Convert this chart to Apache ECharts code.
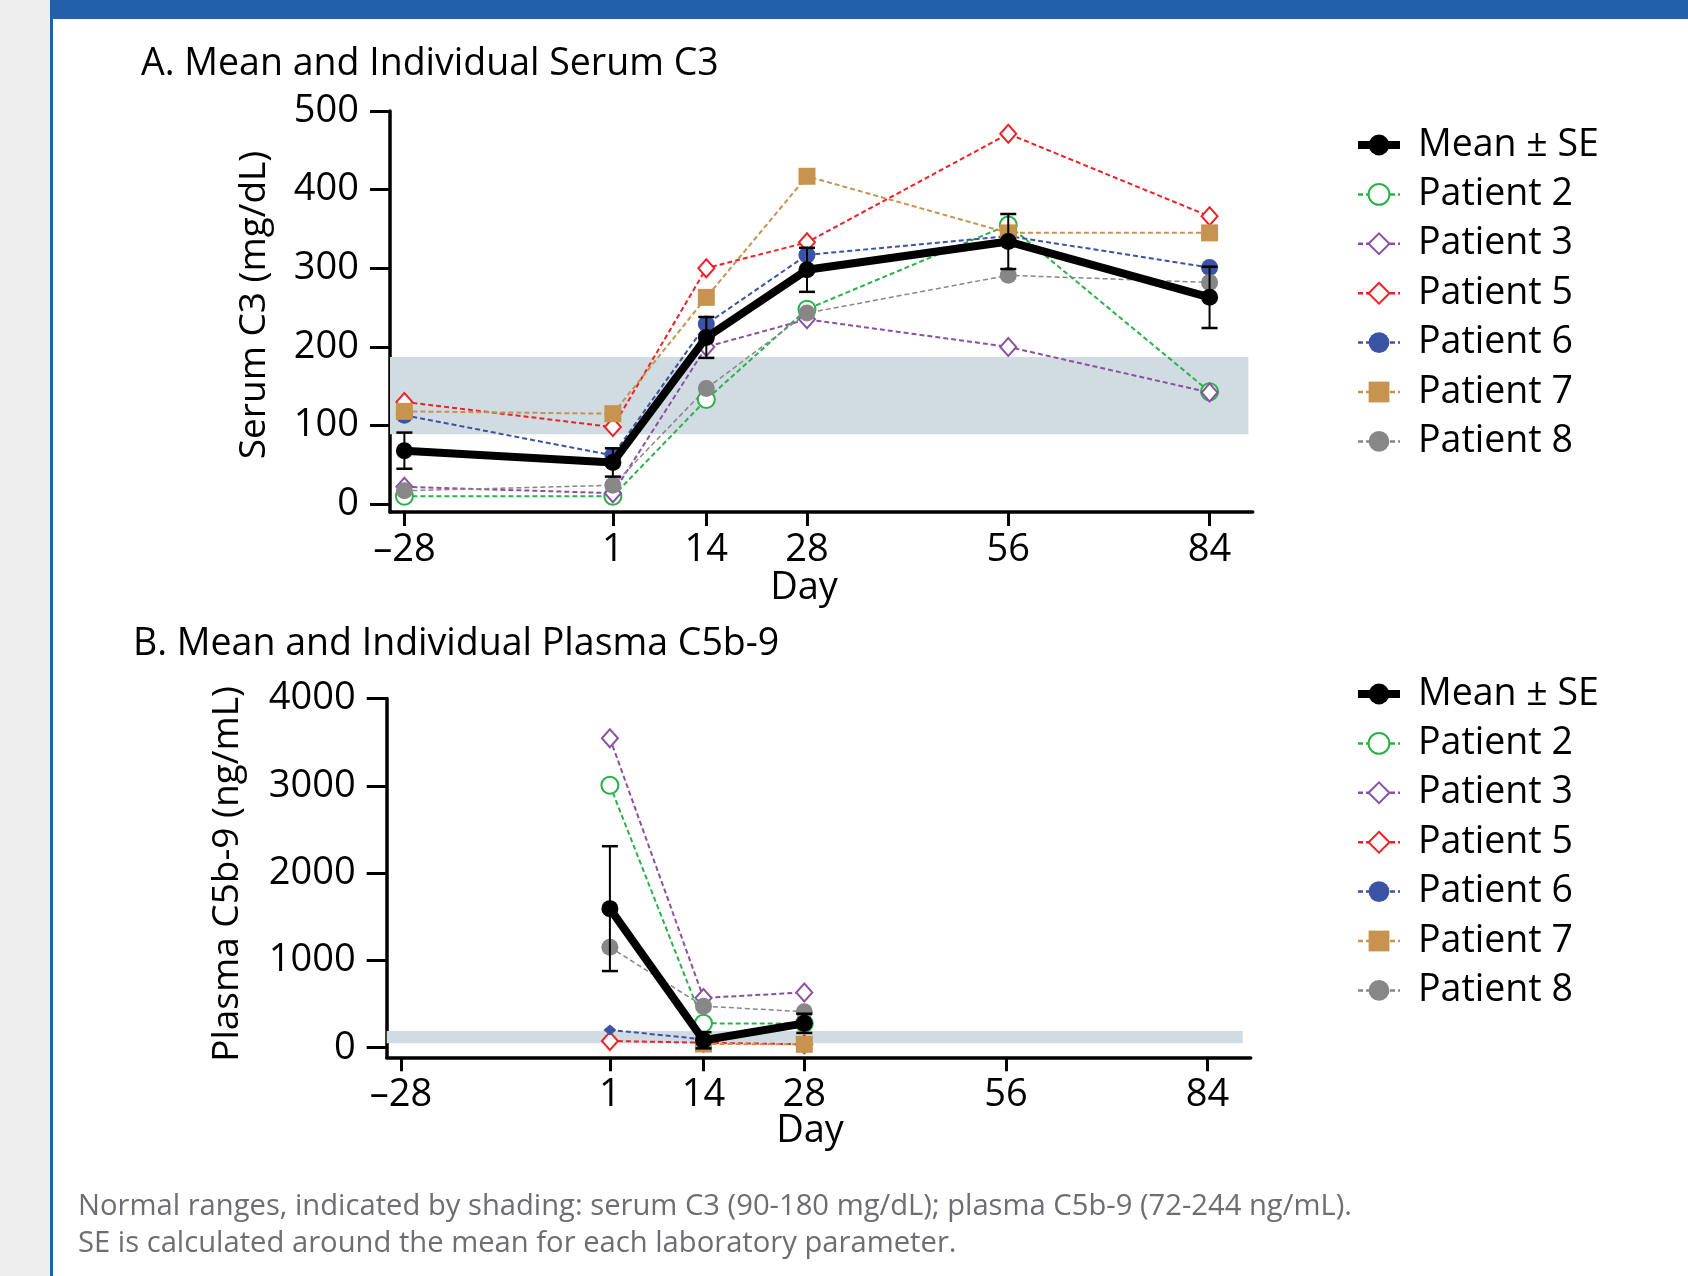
<!DOCTYPE html>
<html><head><meta charset="utf-8">
<script src="https://cdn.jsdelivr.net/npm/echarts@6/dist/echarts.min.js"></script>
<style>html,body{margin:0;padding:0;background:#fff}#c{width:1688px;height:1276px}</style>
</head><body><div id="c"></div>
<script>
// ---------- data ----------
const xTicks = [-28, 1, 14, 28, 56, 84];
const c3Ticks = [0, 100, 200, 300, 400, 500];
const c5Ticks = [0, 1000, 2000, 3000, 4000];

// Panel A: serum C3 (mg/dL)
const c3Days = [-28, 1, 14, 28, 56, 84];
const c3Mean = [68, 53, 212, 298, 334, 263];
const c3SE   = [23, 18, 26, 28, 35, 39];
const c3P2 = [10, 10, 133, 248, 355, 143];
const c3P3 = [22, 14, 200, 235, 200, 142];
const c3P5 = [130, 98, 300, 333, 471, 366];
const c3P6 = [113, 62, 229, 317, 341, 301];
const c3P7 = [118, 115, 263, 417, 345, 345];
const c3P8 = [17, 24, 147, 243, 291, 282];
const c3Normal = [89, 187];

// Panel B: plasma C5b-9 (ng/mL)
const c5Days = [1, 14, 28];
const c5Mean = [1593, 85, 279];
const c5SE   = [715, 93, 110];
const c5P2 = [3006, 279, 276];
const c5P3 = [3546, 570, 633];
const c5P5 = [77, 57, 39];
const c5P6 = [204, 96, null];
const c5P7 = [null, 42, 39];
const c5P8 = [1151, 476, 412];
const c5Normal = [50, 191];

const patientNames = ['Patient 2', 'Patient 3', 'Patient 5', 'Patient 6', 'Patient 7', 'Patient 8'];
const meanName = 'Mean \u00b1 SE';

// ---------- styles ----------
const FONT = '"Open Sans", "Noto Sans", sans-serif';
const pStyles = {
  'Patient 2': {color: '#2CB14A', symbol: 'emptyCircle', size: 17, width: 2, bw: 2.5},
  'Patient 3': {color: '#8D4FA3', symbol: 'emptyDiamond', size: [16, 18], width: 2, bw: 2.5},
  'Patient 5': {color: '#EE2124', symbol: 'emptyDiamond', size: [16, 18], width: 2, bw: 2.5},
  'Patient 6': {color: '#3A53A4', symbol: 'circle', size: 17, width: 2, bw: 0},
  'Patient 7': {color: '#C6944F', symbol: 'rect', size: 17, width: 2, bw: 0},
  'Patient 8': {color: '#878787', symbol: 'circle', size: 17, width: 1.5, bw: 0}
};
const pStylesB = {'Patient 6': {symbol: 'diamond', size: [13, 11]}};

function pair(xs, ys) { return xs.map((x, i) => ys[i] == null ? null : [x, ys[i]]); }

function patientSeries(name, xs, ys, gi, over) {
  const s = Object.assign({}, pStyles[name], over || {});
  return {
    type: 'line', name: name, xAxisIndex: gi, yAxisIndex: gi, z: 3,
    data: pair(xs, ys), connectNulls: false,
    symbol: s.symbol, symbolSize: s.size,
    lineStyle: {color: s.color, width: s.width, type: [5, 3]},
    itemStyle: {color: s.color, borderColor: s.color, borderWidth: s.bw},
    emphasis: {disabled: true}
  };
}
function meanSeries(xs, ys, gi) {
  return {
    type: 'line', name: meanName, xAxisIndex: gi, yAxisIndex: gi, z: 6,
    data: pair(xs, ys), symbol: 'circle', symbolSize: 17,
    lineStyle: {color: '#000', width: 8},
    itemStyle: {color: '#000'},
    emphasis: {disabled: true}
  };
}
function errSeries(xs, m, se, gi) {
  return {
    type: 'custom', xAxisIndex: gi, yAxisIndex: gi, z: 5,
    data: xs.map((x, i) => [x, m[i] - se[i], m[i] + se[i]]),
    renderItem: function (params, api) {
      const x = api.value(0);
      const a = api.coord([x, api.value(2)]);
      const b = api.coord([x, api.value(1)]);
      const hw = 8;
      const cap = {stroke: '#000', lineWidth: 2.5};
      return {type: 'group', children: [
        {type: 'line', shape: {x1: a[0], y1: a[1], x2: b[0], y2: b[1]}, style: {stroke: '#000', lineWidth: 2}},
        {type: 'line', shape: {x1: a[0] - hw, y1: a[1], x2: a[0] + hw, y2: a[1]}, style: cap},
        {type: 'line', shape: {x1: b[0] - hw, y1: b[1], x2: b[0] + hw, y2: b[1]}, style: cap}
      ]};
    }
  };
}
function bandSeries(range, gi, xEnd) {
  return {
    type: 'line', xAxisIndex: gi, yAxisIndex: gi, z: 1, data: [], silent: true,
    markArea: {silent: true, itemStyle: {color: '#D0DBE2'},
      data: [[{xAxis: -30, yAxis: range[0]}, {xAxis: xEnd, yAxis: range[1]}]]}
  };
}

const TICKFONT = 38;
function xAxisCfg(gi) {
  return {
    type: 'value', gridIndex: gi, min: -30, max: 90,
    axisLine: {show: true, onZero: false, lineStyle: {color: '#000', width: 3.5}},
    axisTick: {show: true, customValues: xTicks, length: 14, lineStyle: {color: '#000', width: 3}},
    axisLabel: {show: true, customValues: xTicks, margin: 19, color: '#000', fontFamily: FONT, fontSize: TICKFONT,
      formatter: v => v < 0 ? '\u2013' + Math.abs(v) : String(v)},
    splitLine: {show: false}
  };
}
function yAxisCfg(gi, min, max, ticks) {
  return {
    type: 'value', gridIndex: gi, min: min, max: max,
    axisLine: {show: true, onZero: false, lineStyle: {color: '#000', width: 3.5}},
    axisTick: {show: true, customValues: ticks, length: 20, lineStyle: {color: '#000', width: 3}},
    axisLabel: {show: true, customValues: ticks, margin: 31, color: '#000', fontFamily: FONT, fontSize: TICKFONT,
      formatter: v => String(v)},
    splitLine: {show: false}
  };
}
function legendCfg(top) {
  return {
    data: [{name: meanName, lineStyle: {width: 8}}].concat(patientNames.map(n => ({name: n, lineStyle: {width: 2.5}}))),
    orient: 'vertical', left: 1354, top: top, padding: 0,
    itemWidth: 42, itemHeight: 26, itemGap: 9.4, selectedMode: false,
    textStyle: {color: '#000', fontFamily: FONT, fontSize: 37.5, lineHeight: 40, padding: [0, 0, 0, 13]}
  };
}

const series = [
  bandSeries(c3Normal, 0, 89.4),
  bandSeries(c5Normal, 1, 88.9)
];
const c3Data = {'Patient 2': c3P2, 'Patient 3': c3P3, 'Patient 5': c3P5, 'Patient 6': c3P6, 'Patient 7': c3P7, 'Patient 8': c3P8};
const c5Data = {'Patient 2': c5P2, 'Patient 3': c5P3, 'Patient 5': c5P5, 'Patient 6': c5P6, 'Patient 7': c5P7, 'Patient 8': c5P8};
patientNames.forEach(n => series.push(patientSeries(n, c3Days, c3Data[n], 0)));
patientNames.forEach(n => series.push(patientSeries(n, c5Days, c5Data[n], 1, pStylesB[n])));
series.push(errSeries(c3Days, c3Mean, c3SE, 0), meanSeries(c3Days, c3Mean, 0));
series.push(errSeries(c5Days, c5Mean, c5SE, 1), meanSeries(c5Days, c5Mean, 1));

function txt(x, y, t, size, opts, rot) {
  const o = {type: 'text', x: x, y: y, silent: true,
    style: Object.assign({text: t, fill: '#000', font: size + 'px ' + FONT, textAlign: 'left', textVerticalAlign: 'middle'}, opts || {})};
  if (rot) o.rotation = rot;
  return o;
}

const option = {
  animation: false,
  backgroundColor: '#fff',
  grid: [
    {left: 390, right: 1688 - 1252.7, top: 111, height: 401, containLabel: false, outerBoundsMode: 'none'},
    {left: 386.7, right: 1688 - 1250.7, top: 698.5, height: 358.8, containLabel: false, outerBoundsMode: 'none'}
  ],
  xAxis: [xAxisCfg(0), xAxisCfg(1)],
  yAxis: [yAxisCfg(0, -10, 500, c3Ticks), yAxisCfg(1, -110, 4000, c5Ticks)],
  legend: [legendCfg(125), legendCfg(674)],
  series: series,
  graphic: [
    {type: 'rect', shape: {x: 0, y: 0, width: 50, height: 1276}, style: {fill: '#EEEEEE'}, silent: true},
    {type: 'rect', shape: {x: 50, y: 0, width: 3, height: 1276}, style: {fill: '#2360AC'}, silent: true},
    {type: 'rect', shape: {x: 50, y: 0, width: 1638, height: 19}, style: {fill: '#2360AC'}, silent: true},
    txt(141, 64, 'A. Mean and Individual Serum C3', 37.5),
    txt(133, 644, 'B. Mean and Individual Plasma C5b-9', 37.5),
    txt(254, 305, 'Serum C3 (mg/dL)', 37, {textAlign: 'center'}, Math.PI / 2),
    txt(227, 874, 'Plasma C5b-9 (ng/mL)', 37, {textAlign: 'center'}, Math.PI / 2),
    txt(804, 588, 'Day', 38, {textAlign: 'center'}),
    txt(810, 1131, 'Day', 38, {textAlign: 'center'}),
    txt(78, 1207, 'Normal ranges, indicated by shading: serum C3 (90-180 mg/dL); plasma C5b-9 (72-244 ng/mL).', 29.2, {fill: '#6D6E71'}),
    txt(78, 1244, 'SE is calculated around the mean for each laboratory parameter.', 29.2, {fill: '#6D6E71'})
  ]
};
const chart = echarts.init(document.getElementById('c'), null, {renderer: 'canvas'});
chart.setOption(option);
</script>
</body></html>
